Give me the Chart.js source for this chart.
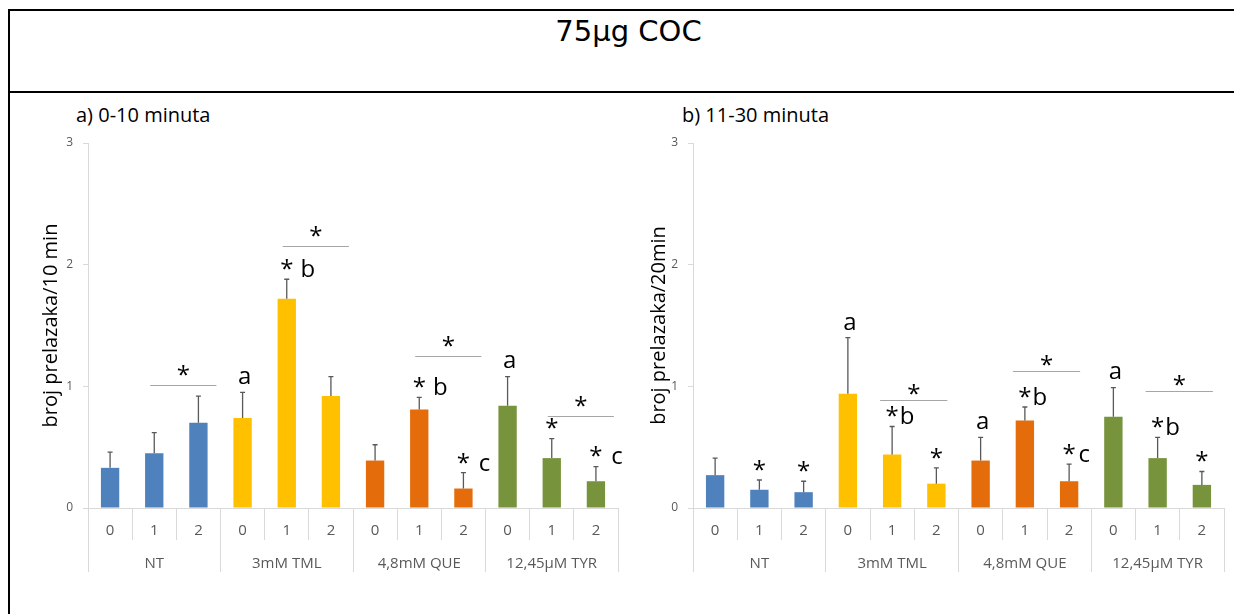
<!DOCTYPE html>
<html>
<head>
<meta charset="utf-8">
<script src="https://cdn.jsdelivr.net/npm/chart.js@4.4.1/dist/chart.umd.min.js"></script>
<style>
  body { margin: 0; background: #fff; width: 1234px; height: 614px; overflow: hidden; position: relative; font-family: 'Open Sans', sans-serif; }
  #okvir { position: absolute; left: 8px; top: 9px; width: 1260px; height: 700px; border: 2px solid #000; }
  #crta { position: absolute; left: 8px; top: 91px; width: 1260px; height: 2px; background: #000; }
  #naslov { position: absolute; left: 0; top: 14px; width: 1257px; text-align: center; font-family: 'DejaVu Sans', sans-serif; font-size: 29px; line-height: 34px; color: #000; }
  .podnaslov { position: absolute; top: 101px; font-size: 20px; line-height: 28px; color: #000; }
  canvas { position: absolute; top: 95px; }
</style>
</head>
<body>
<div id="okvir"></div>
<div id="crta"></div>
<div id="naslov">75µg COC</div>
<div class="podnaslov" style="left:76px">a) 0-10 minuta</div>
<div class="podnaslov" style="left:682px">b) 11-30 minuta</div>
<canvas id="graf10" width="614" height="487" style="left:14px"></canvas>
<canvas id="graf20" width="600" height="487" style="left:630px"></canvas>

<script>
// PODACI
const kategorije = ['0', '1', '2', '0', '1', '2', '0', '1', '2', '0', '1', '2'];
const grupe = ['NT', '3mM TML', '4,8mM QUE', '12,45µM TYR'];
const bojeGrupa = ['#4F81BD', '#FFC000', '#E46C0A', '#77933C'];

// a) 0-10 minuta
const prelasci10 = [0.33, 0.45, 0.70, 0.74, 1.72, 0.92, 0.39, 0.81, 0.16, 0.84, 0.41, 0.22];
const greske10 = [0.13, 0.17, 0.22, 0.21, 0.16, 0.16, 0.13, 0.10, 0.13, 0.24, 0.16, 0.12];
const zvjezdice10 = [0, 0, 0, 0, 1, 0, 0, 1, 1, 0, 1, 1];
const slova10 = ['', '', '', 'a', 'b', '', '', 'b', 'c', 'a', '', 'c'];
const zagrade10 = [[1, 2, 1.01], [4, 5, 2.15], [7, 8, 1.25], [10, 11, 0.76]];

// b) 11-30 minuta
const prelasci20 = [0.27, 0.15, 0.13, 0.94, 0.44, 0.20, 0.39, 0.72, 0.22, 0.75, 0.41, 0.19];
const greske20 = [0.14, 0.08, 0.09, 0.46, 0.23, 0.13, 0.19, 0.11, 0.14, 0.24, 0.17, 0.11];
const zvjezdice20 = [0, 1, 1, 0, 1, 1, 0, 1, 1, 0, 1, 1];
const slova20 = ['', '', '', 'a', 'b', '', 'a', 'b', 'c', 'a', 'b', ''];
const zagrade20 = [[4, 5, 0.885], [7, 8, 1.13], [10, 11, 0.964]];

Chart.defaults.font.family = "'Open Sans', sans-serif";

// 1. GRESKE, ZVJEZDICE I SLOVA IZNAD STUPACA
const oznake = {
    id: 'oznake',
    afterDatasetsDraw(chart, args, o) {
        const ctx = chart.ctx;
        const y = chart.scales.y;
        const stupci = chart.getDatasetMeta(0).data;
        const vrijednosti = chart.data.datasets[0].data;

        ctx.save();
        // greske (samo gornji krak)
        ctx.strokeStyle = '#595959';
        ctx.lineWidth = 1.3;
        stupci.forEach((s, i) => {
            let vrh = y.getPixelForValue(vrijednosti[i] + o.greske[i]);
            ctx.beginPath();
            ctx.moveTo(s.x, s.y);
            ctx.lineTo(s.x, vrh);
            ctx.moveTo(s.x - 2.5, vrh);
            ctx.lineTo(s.x + 2.5, vrh);
            ctx.stroke();
        });

        ctx.fillStyle = '#000';
        ctx.font = "24px 'Open Sans'";
        ctx.textAlign = 'center';
        ctx.textBaseline = 'middle';
        stupci.forEach((s, i) => {
            let vrh = y.getPixelForValue(vrijednosti[i] + o.greske[i]);
            if (o.zvjezdice[i]) {
                ctx.fillText('*', s.x, vrh - 9);
                if (o.slova[i]) ctx.fillText(o.slova[i], s.x + o.razmakSlova, vrh - 9);
            } else if (o.slova[i]) {
                ctx.fillText(o.slova[i], s.x + 2, vrh - 15);
            }
        });

        // linije znacajnosti izmedju doza
        ctx.strokeStyle = '#a6a6a6';
        ctx.lineWidth = 1;
        o.zagrade.forEach(([od, doo, razina]) => {
            let x1 = stupci[od].x + o.pomakLijevo;
            let x2 = stupci[doo].x + o.pomakDesno;
            let yy = Math.round(y.getPixelForValue(razina)) + 0.5;
            ctx.beginPath();
            ctx.moveTo(x1, yy);
            ctx.lineTo(x2, yy);
            ctx.stroke();
            ctx.fillText('*', (x1 + x2) / 2, yy - o.visinaZvjezdice);
        });
        ctx.restore();
    }
};

// 2. GRAF
function napraviGraf(idPlatna, podaci, opcije) {
    let boje = podaci.map((v, i) => bojeGrupa[Math.floor(i / 3)]);
    return new Chart(document.getElementById(idPlatna), {
        type: 'bar',
        data: {
            labels: kategorije,
            datasets: [{
                data: podaci,
                backgroundColor: boje,
                barPercentage: 0.415,
                categoryPercentage: 1
            }]
        },
        options: {
            responsive: false,
            animation: false,
            layout: { padding: { top: 48, right: opcije.desno, bottom: 10, left: 0 } },
            plugins: {
                legend: { display: false },
                tooltip: { enabled: false },
                oznake: opcije.oznake
            },
            scales: {
                x: {
                    type: 'category',
                    offset: true,
                    grid: { offset: true, drawOnChartArea: false, tickLength: 32, color: '#d9d9d9' },
                    border: { color: '#d9d9d9' },
                    ticks: { color: '#595959', font: { size: 15 }, padding: -18, maxRotation: 0, autoSkip: false },
                    afterFit: s => { s.height = 32; }
                },
                grupa: {
                    type: 'category',
                    position: 'bottom',
                    labels: grupe,
                    offset: true,
                    grid: { offset: true, drawOnChartArea: false, tickLength: 32, color: '#d9d9d9' },
                    border: { display: false },
                    ticks: { color: '#595959', font: { size: 15 }, padding: -17, maxRotation: 0, autoSkip: false },
                    afterFit: s => { s.height = 32; }
                },
                y: {
                    min: 0,
                    max: 3,
                    ticks: { stepSize: 1, color: '#595959', font: { size: 12 }, padding: 10 },
                    grid: { drawOnChartArea: false, tickLength: 5, color: '#d9d9d9' },
                    border: { color: '#d9d9d9' },
                    title: { display: true, text: opcije.naslovY, color: '#000', font: { size: 20 }, padding: { top: opcije.razmakNaslova, bottom: 0 } },
                    afterFit: s => { s.width = opcije.sirinaY; }
                }
            }
        },
        plugins: [oznake]
    });
}

napraviGraf('graf10', prelasci10, {
    desno: 10,
    sirinaY: 74,
    razmakNaslova: 25,
    naslovY: 'broj prelazaka/10 min',
    oznake: { greske: greske10, zvjezdice: zvjezdice10, slova: slova10, zagrade: zagrade10, razmakSlova: 21, pomakLijevo: -4, pomakDesno: 18, visinaZvjezdice: 9 }
});

napraviGraf('graf20', prelasci20, {
    desno: 6,
    sirinaY: 63,
    razmakNaslova: 17,
    naslovY: 'broj prelazaka/20min',
    oznake: { greske: greske20, zvjezdice: zvjezdice20, slova: slova20, zagrade: zagrade20, razmakSlova: 15, pomakLijevo: -12, pomakDesno: 11, visinaZvjezdice: 5 }
});
</script>
</body>
</html>
